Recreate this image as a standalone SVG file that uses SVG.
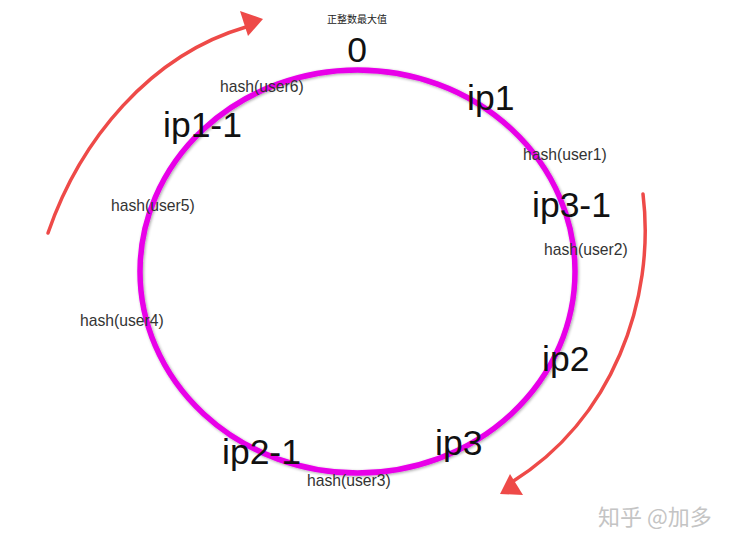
<svg xmlns="http://www.w3.org/2000/svg" width="731" height="546" viewBox="0 0 731 546">
<defs>
<filter id="sh" x="-10%" y="-10%" width="120%" height="120%"><feGaussianBlur in="SourceAlpha" stdDeviation="1.5"/><feOffset dx="1" dy="1"/><feComponentTransfer><feFuncA type="linear" slope="0.35"/></feComponentTransfer><feMerge><feMergeNode/><feMergeNode in="SourceGraphic"/></feMerge></filter>
</defs>
<style>
.big{font-family:"Liberation Sans",Arial,sans-serif;font-size:35.5px;fill:#111}
.hash{font-family:"Liberation Sans",Arial,sans-serif;font-size:15.7px;fill:#333}
.arr{fill:none;stroke:#ee4a48;stroke-width:3.5;stroke-linecap:round}
.head{fill:#ee4a48}
</style>
<rect width="731" height="546" fill="#fff"/>
<g id="ring"><ellipse cx="357.5" cy="271.5" rx="217.5" ry="201.5" fill="none" stroke="#e800e8" stroke-width="5.5" filter="url(#sh)"/></g>
<g id="connectors">
<path class="arr" d="M48,233 C80,140 150,55 246,27"/>
<polygon class="head" points="240,11 263,19 248,36"/>
<path class="arr" d="M643,194 C656,300 612,420 512,482"/>
<polygon class="head" points="500,494 510,474 523,495"/>
</g>
<g id="top"><text x="357" y="23" font-family="'Liberation Sans','Noto Sans CJK SC',sans-serif" font-size="10" fill="#222" text-anchor="middle">正整数最大值</text></g>
<g id="zero"><text class="big" x="357" y="62" text-anchor="middle">0</text></g>
<g id="ip1"><text class="big" x="467" y="110">ip1</text></g>
<g id="ip1-1"><text class="big" x="163" y="137">ip1-1</text></g>
<g id="ip3-1"><text class="big" x="532" y="217">ip3-1</text></g>
<g id="ip2"><text class="big" x="542" y="371">ip2</text></g>
<g id="ip3"><text class="big" x="435" y="455">ip3</text></g>
<g id="ip2-1"><text class="big" x="222" y="464">ip2-1</text></g>
<g id="h6"><text class="hash" x="220" y="92">hash(user6)</text></g>
<g id="h1"><text class="hash" x="523" y="160">hash(user1)</text></g>
<g id="h5"><text class="hash" x="111" y="211">hash(user5)</text></g>
<g id="h2"><text class="hash" x="544" y="255">hash(user2)</text></g>
<g id="h4"><text class="hash" x="80" y="326">hash(user4)</text></g>
<g id="h3"><text class="hash" x="307" y="486">hash(user3)</text></g>
<g id="wm"><text x="598" y="525" font-family="'Noto Sans CJK SC',sans-serif" font-size="22" fill="#c4c4c4">知乎 @加多</text></g>
</svg>
